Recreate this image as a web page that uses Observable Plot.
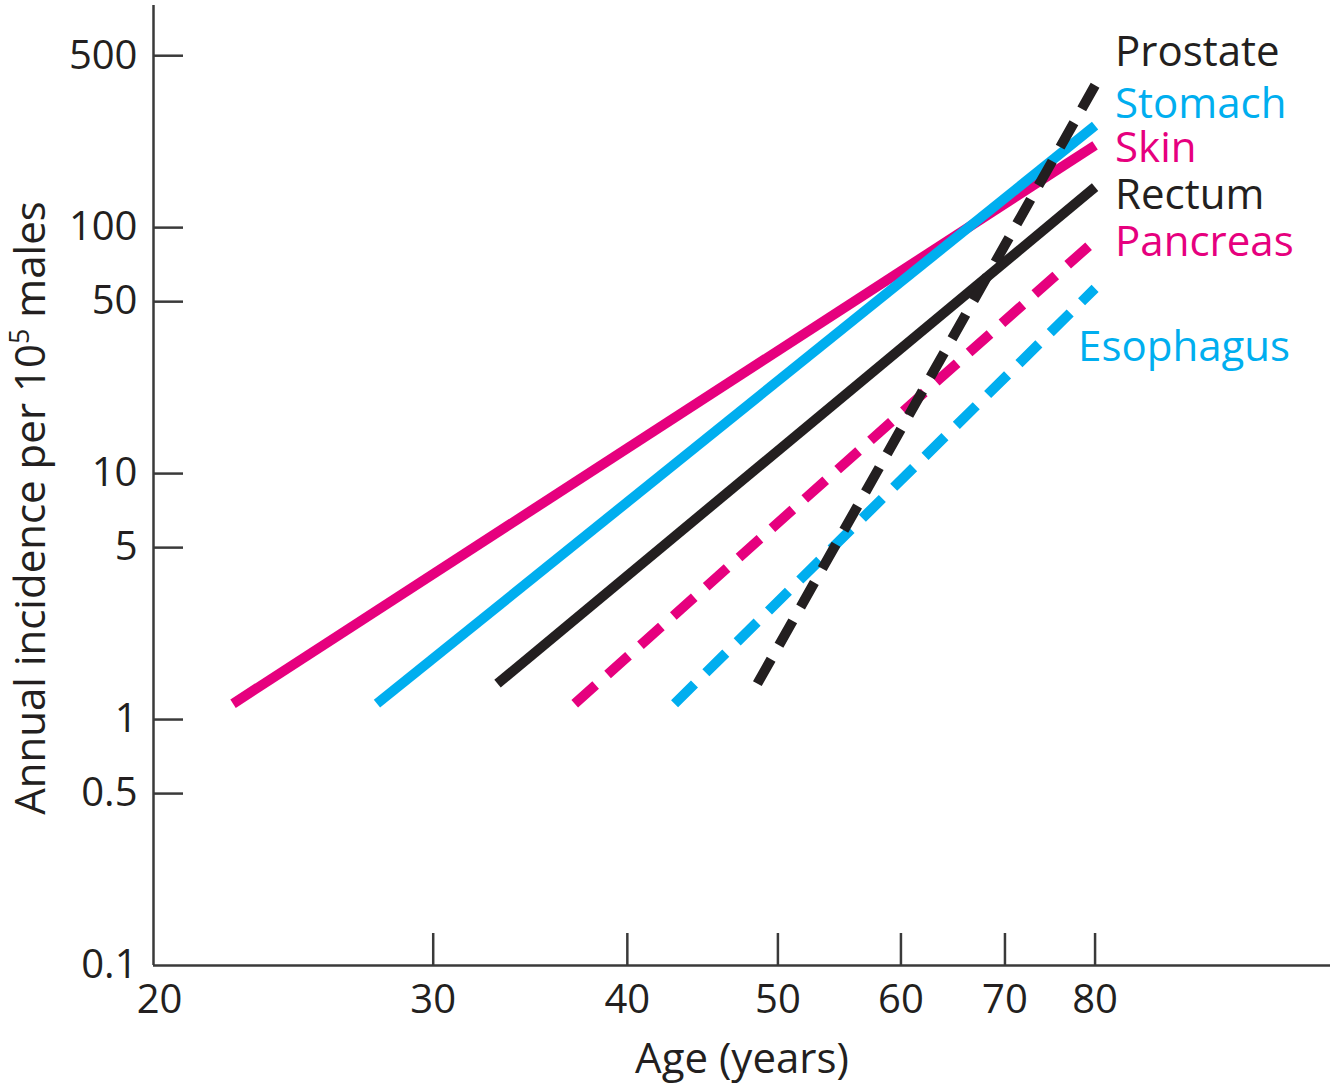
<!DOCTYPE html>
<html>
<head>
<meta charset="utf-8">
<script src="https://cdn.jsdelivr.net/npm/d3@7"></script>
<script src="https://cdn.jsdelivr.net/npm/@observablehq/plot@0.6"></script>
<style>
  html, body { margin: 0; padding: 0; background: #fff; }
  svg { display: block; }
</style>
</head>
<body>
<div id="chart"></div>
<script>
// ---- data ----
const cancers        = ["Skin", "Stomach", "Rectum", "Pancreas", "Esophagus", "Prostate"];
const startAge       = [22.3, 27.6, 33.0, 37.0, 42.9, 48.5];
const endAge         = [80, 80, 80, 80, 80, 80];
const startIncidence = [1.16, 1.16, 1.40, 1.16, 1.16, 1.40];
const endIncidence   = [216, 260, 146, 88.7, 56.6, 379];
const labelIncidence = [210, 317, 135, 87, 32.6, 516];
const xTickValues    = [20, 30, 40, 50, 60, 70, 80];
const yTickValues    = [0.1, 0.5, 1, 5, 10, 50, 100, 500];

// ---- styles ----
const ink = "#231f20", magenta = "#e6007e", cyan = "#00aeef", axisInk = "#3a3a3a";
const styleOf = {
  Skin:      {color: magenta, dashed: false, anchor: "start"},
  Stomach:   {color: cyan,    dashed: false, anchor: "start"},
  Rectum:    {color: ink,     dashed: false, anchor: "start"},
  Pancreas:  {color: magenta, dashed: true,  anchor: "start"},
  Esophagus: {color: cyan,    dashed: true,  anchor: "end"},
  Prostate:  {color: ink,     dashed: true,  anchor: "start"}
};

const W = 1330, H = 1088, mL = 153, mR = 0, mT = 5, mB = 123;
const plotW = W - mL - mR, plotH = H - mT - mB;

const lineRows = cancers.flatMap((c, i) => [
  {cancer: c, age: startAge[i], incidence: startIncidence[i]},
  {cancer: c, age: endAge[i],   incidence: endIncidence[i]}
]);
const labelRows = cancers.map((c, i) => ({cancer: c, age: endAge[i], incidence: labelIncidence[i]}));

const lineMarks = cancers.map(c => Plot.line(lineRows.filter(r => r.cancer === c), {
  x: "age", y: "incidence",
  stroke: styleOf[c].color, strokeWidth: 10,
  strokeDasharray: styleOf[c].dashed ? "28,16" : null,
  strokeLinecap: "butt"
}));

const labelMarks = labelRows.map(r => Plot.text([r], {
  x: "age", y: "incidence", text: "cancer",
  fill: styleOf[r.cancer].color,
  textAnchor: styleOf[r.cancer].anchor,
  dx: styleOf[r.cancer].anchor === "start" ? 20 : 195,
  lineAnchor: "middle",
  fontSize: 42
}));

const chart = Plot.plot({
  width: W, height: H,
  marginLeft: mL, marginRight: mR, marginTop: mT, marginBottom: mB,
  style: {fontFamily: "'Open Sans', 'Liberation Sans', sans-serif", fontSize: "40px", color: ink, background: "#fff"},
  x: {type: "log", domain: [19.82, 113.4], label: null},
  y: {type: "log", domain: [0.1, 800], label: null},
  marks: [
    Plot.axisX(xTickValues, {tickSize: 0, tickPadding: 19, fontSize: 40, tickFormat: d => String(d), label: null}),
    Plot.axisY(yTickValues, {tickSize: 0, tickPadding: 16, fontSize: 40, tickFormat: d => String(d), label: null}),
    Plot.tickX(xTickValues.slice(1), {x: d => d, insetTop: plotH - 32, stroke: axisInk, strokeWidth: 2.5}),
    Plot.tickY(yTickValues.slice(1), {y: d => d, insetRight: plotW - 30, stroke: axisInk, strokeWidth: 2.5}),
    Plot.ruleX([19.82], {stroke: axisInk, strokeWidth: 2.5}),
    Plot.ruleY([0.1], {stroke: axisInk, strokeWidth: 2.5}),
    ...lineMarks,
    ...labelMarks,
    Plot.text(["Age (years)"], {frameAnchor: "bottom", lineAnchor: "top", dy: 78, text: d => d, fontSize: 42, fill: ink})
  ]
});

document.getElementById("chart").appendChild(chart);

// y-axis title with a real superscript
const yl = d3.select(chart).append("text")
  .attr("transform", "translate(45,508) rotate(-90)")
  .attr("text-anchor", "middle")
  .attr("font-size", 42)
  .attr("fill", ink);
yl.append("tspan").text("Annual incidence per 10");
yl.append("tspan").attr("dy", -16).attr("font-size", 27).text("5");
yl.append("tspan").attr("dy", 16).text(" males");
</script>
</body>
</html>
